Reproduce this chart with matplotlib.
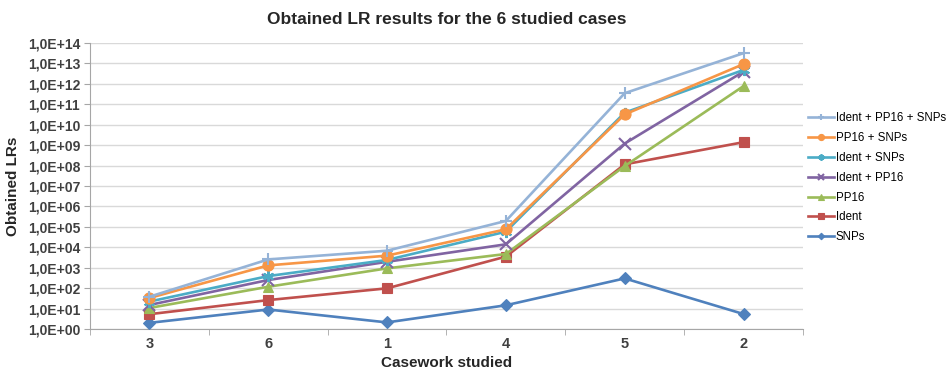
import matplotlib.pyplot as plt
import numpy as np
from matplotlib.ticker import FixedLocator, FuncFormatter, NullFormatter

# casework order on the x axis
cases = ["3", "6", "1", "4", "5", "2"]

# LR values (log scale)
snps = [2.0, 9.0, 2.1, 14.5, 300, 5.4]
ident = [5.3, 26, 98, 3500, 1.15e8, 1.4e9]
pp16 = [10.7, 117, 930, 4700, 9.5e7, 7.8e11]
ident_pp16 = [15, 250, 1950, 14000, 1.2e9, 4.0e12]
ident_snps = [22, 390, 2400, 58000, 3.9e10, 4.8e12]
pp16_snps = [33, 1300, 3900, 76000, 3.2e10, 9.3e12]
ident_pp16_snps = [38, 2550, 6800, 1.95e5, 3.5e11, 3.2e13]

series = [
    ("SNPs", snps, "#4F81BD", "D", 6),
    ("Ident", ident, "#C0504D", "s", 7),
    ("PP16", pp16, "#9BBB59", "^", 7),
    ("Ident + PP16", ident_pp16, "#8064A2", "x", 8),
    ("Ident + SNPs", ident_snps, "#4BACC6", (6, 2, 0), 8),
    ("PP16 + SNPs", pp16_snps, "#F79646", "o", 8),
    ("Ident + PP16 + SNPs", ident_pp16_snps, "#95B3D7", "+", 9),
]

plt.rcParams['font.family'] = ['Liberation Sans', 'DejaVu Sans']

fig = plt.figure(figsize=(9.5, 3.71), dpi=100)
ax = fig.add_axes([0.0947, 0.1132, 0.7505, 0.7708])

x = np.arange(len(cases))
handles = []
for name, vals, col, mk, ms in series:
    h, = ax.plot(x, vals, color=col, marker=mk, markersize=ms, lw=1.9,
                 markeredgewidth=1.5 if mk in ("x", "+", (6, 2, 0)) else 0.8,
                 label=name, zorder=3)
    handles.append(h)

ax.set_yscale('log')
ax.set_ylim(1, 1e14)
ax.set_xlim(-0.5, len(cases) - 0.5)

decades = [10.0 ** k for k in range(15)]
ax.yaxis.set_major_locator(FixedLocator(decades))
ax.yaxis.set_minor_locator(FixedLocator([]))
ax.yaxis.set_minor_formatter(NullFormatter())
ax.yaxis.set_major_formatter(FuncFormatter(lambda v, p: "1,0E+%02d" % int(round(np.log10(v)))))
ax.grid(axis='y', color='#D9D9D9', lw=1.0, zorder=0)

ax.set_xticks(x)
ax.set_xticklabels(cases)
ax.set_xticks(np.arange(-0.5, len(cases)), minor=True)
ax.tick_params(axis='x', which='major', length=0, labelsize=10.5, pad=6)
ax.tick_params(axis='x', which='minor', length=4, color='#A6A6A6', direction='out')
ax.tick_params(axis='y', length=4, color='#A6A6A6', labelsize=10, pad=3)

for lab in ax.get_xticklabels() + ax.get_yticklabels():
    lab.set_fontweight('bold')
    lab.set_color('#404040')

for s in ('top', 'right'):
    ax.spines[s].set_visible(False)
for s in ('left', 'bottom'):
    ax.spines[s].set_color('#A6A6A6')

ax.set_title("Obtained LR results for the 6 studied cases", fontsize=12.5,
             fontweight='bold', color='#262626', pad=14)
ax.set_xlabel("Casework studied", fontsize=11, fontweight='bold', color='#262626', labelpad=3)
ax.set_ylabel("Obtained LRs", fontsize=11, fontweight='bold', color='#262626', labelpad=6)

leg = fig.legend(handles[::-1], [h.get_label() for h in handles[::-1]],
                 loc='upper left', bbox_to_anchor=(0.846, 0.71), frameon=False,
                 fontsize=8.3, handlelength=2.2, labelspacing=0.68, borderaxespad=0,
                 handletextpad=0.2, markerscale=0.55)

fig.savefig("out.png", dpi=100)
